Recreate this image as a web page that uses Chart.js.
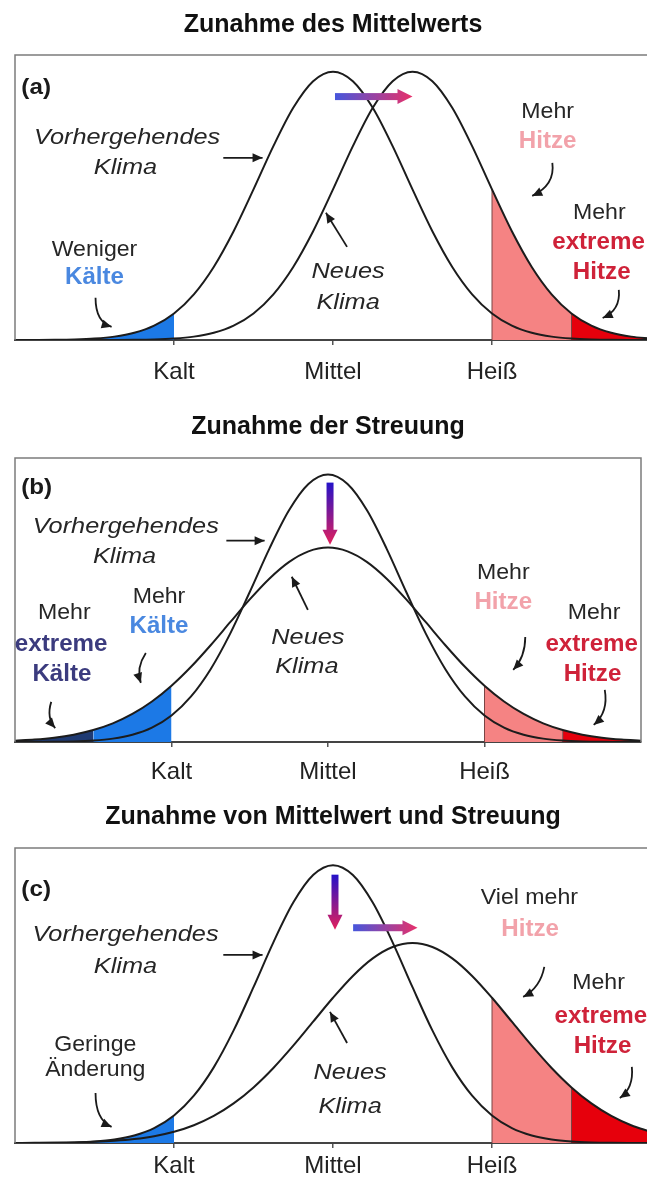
<!DOCTYPE html>
<html lang="de">
<head>
<meta charset="utf-8">
<title>Zunahme von Mittelwert und Streuung</title>
<script src="https://cdn.jsdelivr.net/npm/chart.js@4.4.1/dist/chart.umd.min.js"></script>
<style>
  html, body { margin: 0; padding: 0; background: #fff; overflow: hidden; }
  .panel { position: relative; width: 660px; height: 395px; }
</style>
</head>
<body>
<div class="panel"><canvas id="chartA"></canvas></div>
<div class="panel"><canvas id="chartB"></canvas></div>
<div class="panel"><canvas id="chartC"></canvas></div>
<script>
// x positions (Mittel = 0, Kalt = -2, Heiß = 2)
const xs = [-4, -3.75, -3.5, -3.25, -3, -2.75, -2.5, -2.25, -2, -1.75, -1.5, -1.25, -1, -0.75, -0.5, -0.25,
  0, 0.25, 0.5, 0.75, 1, 1.25, 1.5, 1.75, 2, 2.25, 2.5, 2.75, 3, 3.25, 3.5, 3.75, 4];
const tickValues = [-2, 0, 2];
const tickLabels = ["Kalt", "Mittel", "Heiß"];
const kaltGrenze = -2, extremKalt = -3, heissGrenze = 2, extremHeiss = 3;

// relative Häufigkeit
const vorherKlima = [0.0001, 0.0003, 0.0008, 0.0022, 0.0055, 0.0126, 0.027, 0.0536, 0.099, 0.1703, 0.2723, 0.4053,
  0.561, 0.7224, 0.8654, 0.9645, 1, 0.9645, 0.8654, 0.7224, 0.561, 0.4053, 0.2723, 0.1703, 0.099, 0.0536, 0.027,
  0.0126, 0.0055, 0.0022, 0.0008, 0.0003, 0.0001];
const neuA = [0, 0, 0, 0, 0.0001, 0.0003, 0.0008, 0.0022, 0.0055, 0.0126, 0.027, 0.0536, 0.099, 0.1703, 0.2723,
  0.4053, 0.561, 0.7224, 0.8654, 0.9645, 1, 0.9645, 0.8654, 0.7224, 0.561, 0.4053, 0.2723, 0.1703, 0.099, 0.0536,
  0.027, 0.0126, 0.0055];
const neuB = [0.0051, 0.0093, 0.0163, 0.0275, 0.0447, 0.0697, 0.1048, 0.1514, 0.2104, 0.2813, 0.3619, 0.4479,
  0.5332, 0.6107, 0.6728, 0.713, 0.727, 0.713, 0.6728, 0.6107, 0.5332, 0.4479, 0.3619, 0.2813, 0.2104, 0.1514,
  0.1048, 0.0697, 0.0447, 0.0275, 0.0163, 0.0093, 0.0051];
const neuC = [0.0002, 0.0005, 0.0011, 0.0022, 0.0043, 0.008, 0.0143, 0.0245, 0.0404, 0.064, 0.0974, 0.1425,
  0.2002, 0.2702, 0.3505, 0.4367, 0.5228, 0.6014, 0.6646, 0.7057, 0.72, 0.7057, 0.6646, 0.6014, 0.5228, 0.4367,
  0.3505, 0.2702, 0.2002, 0.1425, 0.0974, 0.064, 0.0404];

const FONT = "'Liberation Sans', Arial, sans-serif";
const BLUE = "#1c79e6", NAVY = "#1f3a72", SALMON = "#f58383", RED = "#e6000c";
const TXT = "#262626", PINK = "#f2a2aa", HOTRED = "#cf2239", SKY = "#4a88e0", DARKBLUE = "#3b3b7e";

function pts(curve, from, to) {
  const out = [];
  xs.forEach((x, i) => { if (x >= from && x <= to) out.push({ x: x, y: curve[i] }); });
  return out;
}

function line(curve) {
  return { data: pts(curve, -4, 4), borderColor: "#1c1c1c", borderWidth: 2, fill: false, order: 0 };
}

function area(curve, from, to, color) {
  return { data: pts(curve, from, to), borderColor: "rgba(0,0,0,0)", borderWidth: 0,
    backgroundColor: color, fill: "origin", order: 2 };
}

function edge(curve, at) {
  return { data: [{ x: at, y: 0 }, { x: at, y: curve[xs.indexOf(at)] }], borderColor: "#7a4444",
    borderWidth: 1, cubicInterpolationMode: "default", tension: 0, fill: false, order: 1 };
}

function head(ctx, x, y, ang, len, half) {
  const c = Math.cos(ang), s = Math.sin(ang);
  ctx.beginPath();
  ctx.moveTo(x, y);
  ctx.lineTo(x - len * c + half * s, y - len * s - half * c);
  ctx.lineTo(x - len * c - half * s, y - len * s + half * c);
  ctx.closePath();
  ctx.fill();
}

function gradArrow(ctx, x0, y0, x1, y1, c0, c1) {
  const len = Math.hypot(x1 - x0, y1 - y0), ang = Math.atan2(y1 - y0, x1 - x0);
  ctx.save();
  ctx.translate(x0, y0);
  ctx.rotate(ang);
  const g = ctx.createLinearGradient(0, 0, len, 0);
  g.addColorStop(0, c0);
  g.addColorStop(1, c1);
  ctx.fillStyle = g;
  ctx.fillRect(0, -3.5, len - 13, 7);
  ctx.beginPath();
  ctx.moveTo(len - 15, -7.5);
  ctx.lineTo(len, 0);
  ctx.lineTo(len - 15, 7.5);
  ctx.closePath();
  ctx.fill();
  ctx.restore();
}

const styles = {
  n: { font: "22px " + FONT, sx: 1.05 },
  b: { font: "bold 23px " + FONT, sx: 1.05 },
  i: { font: "italic 22px " + FONT, sx: 1.15 },
  p: { font: "bold 22px " + FONT, sx: 1.1 }
};

function notesPlugin(notes) {
  return {
    id: "notes",
    afterDatasetsDraw(chart) {
      const { ctx, chartArea: ca, scales: { x, y } } = chart;
      const px = v => x.getPixelForValue(v), py = v => y.getPixelForValue(v);
      ctx.save();
      // frame
      ctx.strokeStyle = "#7c7c7c";
      ctx.lineWidth = 1.5;
      ctx.beginPath();
      ctx.moveTo(ca.left, ca.bottom);
      ctx.lineTo(ca.left, ca.top);
      ctx.lineTo(ca.right, ca.top);
      ctx.lineTo(ca.right, ca.bottom);
      ctx.stroke();

      notes.texts.forEach(([t, tx, ty, color, st]) => {
        const s = styles[st];
        ctx.save();
        ctx.translate(px(tx), py(ty));
        ctx.scale(s.sx, 1);
        ctx.font = s.font;
        ctx.fillStyle = color;
        ctx.textAlign = st === "p" ? "left" : "center";
        ctx.textBaseline = "middle";
        ctx.fillText(t, 0, 0);
        ctx.restore();
      });

      ctx.strokeStyle = "#1a1a1a";
      ctx.fillStyle = "#1a1a1a";
      ctx.lineWidth = 1.8;
      notes.arrows.forEach(a => {
        const x0 = px(a[0]), y0 = py(a[1]), x1 = px(a[4]), y1 = py(a[5]);
        let ang;
        ctx.beginPath();
        ctx.moveTo(x0, y0);
        if (a[2] === null) {
          ctx.lineTo(x1, y1);
          ang = Math.atan2(y1 - y0, x1 - x0);
        } else {
          const cx = px(a[2]), cy = py(a[3]);
          ctx.quadraticCurveTo(cx, cy, x1, y1);
          ang = Math.atan2(y1 - cy, x1 - cx);
        }
        ctx.stroke();
        head(ctx, x1, y1, ang, 10, 4.5);
      });

      notes.grad.forEach(g => gradArrow(ctx, px(g[0]), py(g[1]), px(g[2]), py(g[3]), g[4], g[5]));
      ctx.restore();
    }
  };
}

function makeChart(id, title, datasets, notes, lay) {
  return new Chart(document.getElementById(id), {
    type: "line",
    data: { datasets: datasets },
    options: {
      responsive: true,
      maintainAspectRatio: false,
      animation: false,
      events: [],
      layout: { padding: { left: 15, right: lay.right, top: 0, bottom: 0 } },
      elements: { point: { radius: 0 }, line: { cubicInterpolationMode: "monotone" } },
      scales: {
        x: {
          type: "linear", min: -4, max: 4,
          afterBuildTicks: s => { s.ticks = tickValues.map(v => ({ value: v })); },
          afterFit: s => { s.height = lay.axis; },
          ticks: {
            autoSkip: false, maxRotation: 0, padding: lay.tickPad, color: "#222",
            font: { family: FONT, size: 24 },
            callback: v => tickLabels[tickValues.indexOf(v)]
          },
          grid: { drawOnChartArea: false, drawTicks: true, tickLength: 5, color: "#555", lineWidth: 1.5 },
          border: { display: true, color: "#444", width: 2 }
        },
        y: { display: false, min: 0, max: 1.062 }
      },
      plugins: {
        legend: { display: false },
        tooltip: { enabled: false },
        title: {
          display: true, text: title, color: "#111",
          font: { family: FONT, size: 25, weight: "bold", lineHeight: 1.2 },
          padding: { top: lay.titleTop, bottom: lay.titleBottom }
        }
      }
    },
    plugins: [notesPlugin(notes)]
  });
}

const warmArrow = ["#4656dc", "#e8306a"];
const downArrow = ["#2412c8", "#e2205c"];

makeChart("chartA", "Zunahme des Mittelwerts", [
  line(vorherKlima), line(neuA),
  area(vorherKlima, -4, kaltGrenze, BLUE),
  area(neuA, heissGrenze, extremHeiss, SALMON),
  area(neuA, extremHeiss, 4, RED),
  edge(neuA, heissGrenze), edge(neuA, extremHeiss)
], {
  texts: [
    ["(a)", -3.92, 0.94, "#1a1a1a", "p"],
    ["Vorhergehendes", -2.59, 0.754, TXT, "i"],
    ["Klima", -2.61, 0.642, TXT, "i"],
    ["Weniger", -3.0, 0.336, TXT, "n"],
    ["Kälte", -3.0, 0.231, SKY, "b"],
    ["Neues", 0.19, 0.254, TXT, "i"],
    ["Klima", 0.19, 0.138, TXT, "i"],
    ["Mehr", 2.7, 0.851, TXT, "n"],
    ["Hitze", 2.7, 0.739, PINK, "b"],
    ["Mehr", 3.35, 0.474, TXT, "n"],
    ["extreme", 3.34, 0.362, HOTRED, "b"],
    ["Hitze", 3.38, 0.25, HOTRED, "b"]
  ],
  arrows: [
    [-1.38, 0.679, null, null, -0.886, 0.679],
    [0.177, 0.347, null, null, -0.089, 0.474],
    [-2.987, 0.157, -2.987, 0.067, -2.785, 0.049],
    [2.759, 0.66, 2.797, 0.578, 2.506, 0.537],
    [3.595, 0.187, 3.62, 0.112, 3.392, 0.082]
  ],
  grad: [[0.025, 0.907, 1.0, 0.907, warmArrow[0], warmArrow[1]]]
}, { right: 9, axis: 55, tickPad: 12.6, titleTop: 10, titleBottom: 15 });

makeChart("chartB", "Zunahme der Streuung", [
  line(vorherKlima), line(neuB),
  area(neuB, -4, extremKalt, NAVY),
  area(neuB, extremKalt, kaltGrenze, BLUE),
  area(neuB, heissGrenze, extremHeiss, SALMON),
  area(neuB, extremHeiss, 4, RED),
  edge(neuB, heissGrenze), edge(neuB, extremHeiss)
], {
  texts: [
    ["(b)", -3.92, 0.951, "#1a1a1a", "p"],
    ["Vorhergehendes", -2.585, 0.805, TXT, "i"],
    ["Klima", -2.6, 0.693, TXT, "i"],
    ["Mehr", -3.37, 0.483, TXT, "n"],
    ["extreme", -3.41, 0.363, DARKBLUE, "b"],
    ["Kälte", -3.4, 0.251, DARKBLUE, "b"],
    ["Mehr", -2.16, 0.543, TXT, "n"],
    ["Kälte", -2.16, 0.431, SKY, "b"],
    ["Neues", -0.257, 0.39, TXT, "i"],
    ["Klima", -0.27, 0.281, TXT, "i"],
    ["Mehr", 2.24, 0.633, TXT, "n"],
    ["Hitze", 2.24, 0.521, PINK, "b"],
    ["Mehr", 3.4, 0.483, TXT, "n"],
    ["extreme", 3.37, 0.363, HOTRED, "b"],
    ["Hitze", 3.38, 0.251, HOTRED, "b"]
  ],
  arrows: [
    [-1.299, 0.753, null, null, -0.81, 0.753],
    [-0.257, 0.494, null, null, -0.463, 0.618],
    [-3.537, 0.15, -3.601, 0.09, -3.486, 0.052],
    [-2.328, 0.333, -2.456, 0.277, -2.392, 0.221],
    [2.521, 0.393, 2.521, 0.318, 2.367, 0.27],
    [3.537, 0.195, 3.587, 0.112, 3.396, 0.064]
  ],
  grad: [[0.026, 0.97, 0.026, 0.738, downArrow[0], downArrow[1]]]
}, { right: 19, axis: 48, tickPad: 10.6, titleTop: 17, titleBottom: 16 });

makeChart("chartC", "Zunahme von Mittelwert und Streuung", [
  line(vorherKlima), line(neuC),
  area(vorherKlima, -4, kaltGrenze, BLUE),
  area(neuC, heissGrenze, extremHeiss, SALMON),
  area(neuC, extremHeiss, 4, RED),
  edge(neuC, heissGrenze), edge(neuC, extremHeiss)
], {
  texts: [
    ["(c)", -3.92, 0.912, "#1a1a1a", "p"],
    ["Vorhergehendes", -2.61, 0.75, TXT, "i"],
    ["Klima", -2.61, 0.634, TXT, "i"],
    ["Geringe", -2.99, 0.353, TXT, "n"],
    ["Änderung", -2.99, 0.263, TXT, "n"],
    ["Neues", 0.215, 0.252, TXT, "i"],
    ["Klima", 0.215, 0.13, TXT, "i"],
    ["Viel mehr", 2.47, 0.883, TXT, "n"],
    ["Hitze", 2.48, 0.768, PINK, "b"],
    ["Mehr", 3.34, 0.577, TXT, "n"],
    ["extreme", 3.37, 0.454, HOTRED, "b"],
    ["Hitze", 3.39, 0.346, HOTRED, "b"]
  ],
  arrows: [
    [-1.38, 0.677, null, null, -0.886, 0.677],
    [0.177, 0.36, null, null, -0.038, 0.472],
    [-2.987, 0.18, -2.987, 0.083, -2.785, 0.058],
    [2.658, 0.634, 2.608, 0.559, 2.392, 0.526],
    [3.759, 0.274, 3.785, 0.198, 3.608, 0.162]
  ],
  grad: [
    [0.025, 0.966, 0.025, 0.768, downArrow[0], downArrow[1]],
    [0.253, 0.775, 1.063, 0.775, warmArrow[0], warmArrow[1]]
  ]
}, { right: 9, axis: 42, tickPad: 3.6, titleTop: 12, titleBottom: 16 });
</script>
</body>
</html>
